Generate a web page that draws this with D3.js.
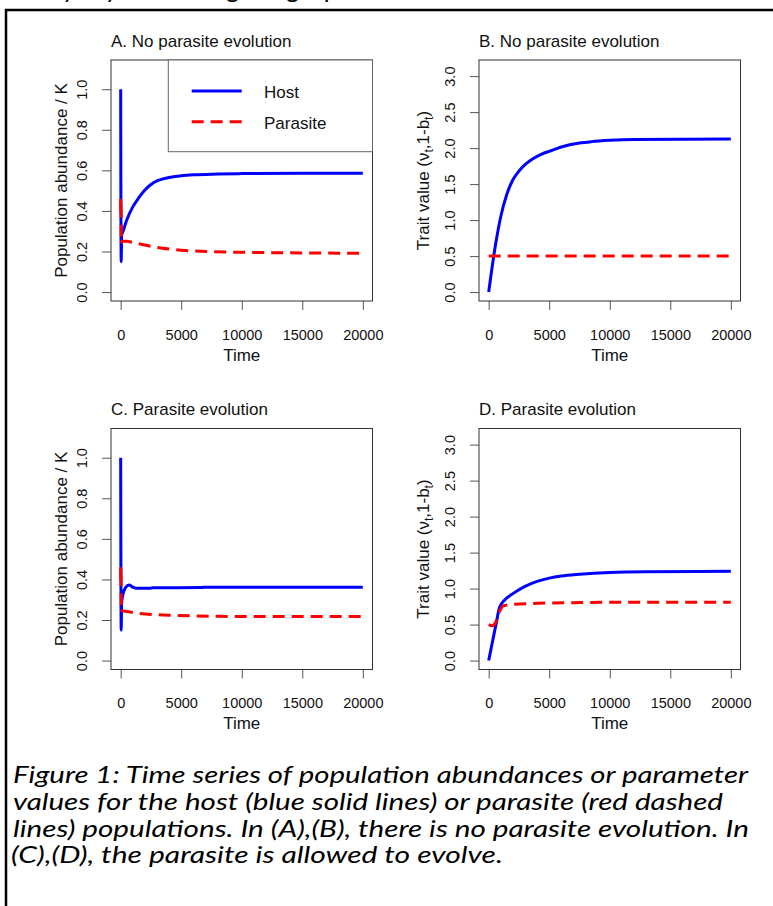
<!DOCTYPE html>
<html>

<head>
    <meta charset='utf-8'>
    <title>Host parasite time series</title>
    <script type='text/javascript' src='https://cdn.jsdelivr.net/npm/d3@7'></script>
    <style>
        body { margin: 0; background: #fff; }
    </style>
</head>

<body>
    <svg width='773' height='906'></svg>
    <script type='text/javascript'>
        // ticks
        const timeTicks = [0, 5000, 10000, 15000, 20000]
        const popTicks = [0, 0.2, 0.4, 0.6, 0.8, 1.0]
        const traitTicks = [0, 0.5, 1.0, 1.5, 2.0, 2.5, 3.0]
        const legendLabels = ['Host', 'Parasite']

        // A: abundances, no parasite evolution  [time, value]
        const hostPopA = [[0, 1.0], [40, 0.15], [80, 0.28], [200, 0.30], [500, 0.355], [1000, 0.42], [1500, 0.465],
            [2000, 0.503], [2500, 0.53], [3000, 0.548], [3500, 0.558], [4000, 0.565], [5000, 0.573], [6000, 0.578],
            [8000, 0.582], [10000, 0.584], [15000, 0.586], [20000, 0.586]]
        const parPopA = [[0, 0.40], [20, 0.46], [60, 0.24], [100, 0.25], [500, 0.25], [1000, 0.245], [2000, 0.232],
            [3000, 0.22], [4000, 0.212], [5000, 0.206], [7000, 0.2], [10000, 0.196], [15000, 0.193], [20000, 0.191]]
        // B: traits, no parasite evolution
        const hostTraitB = [[0, 0], [500, 0.59], [1000, 1.05], [1500, 1.36], [2000, 1.56], [2500, 1.68], [3000, 1.77],
            [3500, 1.835], [4000, 1.885], [4500, 1.925], [5000, 1.955], [6000, 2.015], [7500, 2.07], [8500, 2.09],
            [10000, 2.108], [12000, 2.12], [20000, 2.125]]
        const parTraitB = [[0, 0.5], [20000, 0.5]]
        // C: abundances, parasite evolution
        const hostPopC = [[0, 1.0], [40, 0.15], [80, 0.29], [200, 0.33], [400, 0.36], [700, 0.372], [1000, 0.362],
            [1300, 0.356], [2400, 0.356], [2600, 0.359], [6700, 0.36], [7000, 0.362], [20000, 0.362]]
        const parPopC = [[0, 0.40], [20, 0.46], [60, 0.24], [100, 0.245], [500, 0.242], [1400, 0.233], [3000, 0.226],
            [4500, 0.223], [6000, 0.22], [8000, 0.218], [20000, 0.217]]
        // D: traits, parasite evolution
        const hostTraitD = [[0, 0], [300, 0.25], [600, 0.5], [900, 0.74], [1100, 0.8], [1500, 0.87], [2000, 0.93],
            [3000, 1.03], [4000, 1.1], [5000, 1.145], [6000, 1.175], [7500, 1.2], [10000, 1.225], [13000, 1.235], [20000, 1.24]]
        const parTraitD = [[0, 0.5], [300, 0.485], [600, 0.54], [900, 0.68], [1200, 0.76], [2000, 0.78], [4000, 0.795],
            [7000, 0.805], [10000, 0.81], [20000, 0.81]]

        const captionLines = [
            'Figure 1: Time series of population abundances or parameter',
            'values for the host (blue solid lines) or parasite (red dashed',
            'lines) populations. In (A),(B), there is no parasite evolution. In',
            '(C),(D), the parasite is allowed to evolve.'
        ]

        const svg = d3.select('svg')
        const FONT = "'Liberation Sans', Arial, sans-serif"
        const BLUE = '#0000ff', RED = '#ff0000'
        const W = 261.5, H = 241

        // document frame + cut off text line above
        svg.append('rect').attr('x', 6).attr('y', 10).attr('width', 800).attr('height', 920)
            .attr('fill', 'none').attr('stroke', '#000').attr('stroke-width', 2.5)
        svg.append('text').attr('x', 22).attr('y', -2)
            .attr('font-family', "Lato, 'Open Sans', sans-serif").attr('font-size', 25)
            .attr('textLength', 540)
            .text('they try to manage high parasite abundance')

        const panels = [
            { left: 111, top: 60, title: 'A. No parasite evolution', ylab: 'pop', ticks: popTicks, ymax: 1.1, host: hostPopA, par: parPopA, legend: true },
            { left: 479, top: 60, title: 'B. No parasite evolution', ylab: 'trait', ticks: traitTicks, ymax: 3.1, host: hostTraitB, par: parTraitB },
            { left: 111, top: 428.5, title: 'C. Parasite evolution', ylab: 'pop', ticks: popTicks, ymax: 1.1, host: hostPopC, par: parPopC },
            { left: 479, top: 428.5, title: 'D. Parasite evolution', ylab: 'trait', ticks: traitTicks, ymax: 3.1, host: hostTraitD, par: parTraitD }
        ]

        panels.forEach(p => {
            // R style 4% axis extension
            const x = d3.scaleLinear().domain([-800, 20800]).range([p.left, p.left + W])
            const ext = p.ymax * 0.04
            const y = d3.scaleLinear().domain([-ext, p.ymax + ext]).range([p.top + H, p.top])
            const g = svg.append('g')

            // x axis
            const xa = g.append('g').attr('transform', `translate(0,${p.top + H})`)
                .call(d3.axisBottom(x).tickValues(timeTicks).tickSize(9).tickFormat(d3.format('d')))
            xa.select('.domain').remove()
            xa.selectAll('line').attr('stroke', '#555')
            xa.selectAll('text').attr('y', 38.5).attr('dy', null)
                .attr('font-family', FONT).attr('font-size', 14.5).attr('fill', '#111')

            // y axis, labels parallel to axis
            const ya = g.append('g').attr('transform', `translate(${p.left},0)`)
                .call(d3.axisLeft(y).tickValues(p.ticks).tickSize(9).tickFormat(d3.format('.1f')))
            ya.select('.domain').remove()
            ya.selectAll('line').attr('stroke', '#555')
            ya.selectAll('text').attr('x', null).attr('dy', null)
                .attr('transform', 'translate(-24.5,0) rotate(-90)')
                .attr('text-anchor', 'middle')
                .attr('font-family', FONT).attr('font-size', 14.5).attr('fill', '#111')

            // box
            g.append('rect').attr('x', p.left).attr('y', p.top).attr('width', W).attr('height', H)
                .attr('fill', 'none').attr('stroke', '#333').attr('stroke-width', 1)

            // title
            g.append('text').attr('x', p.left).attr('y', p.top - 13.3)
                .attr('font-family', FONT).attr('font-size', 17).attr('fill', '#111')
                .text(p.title)

            // x label
            g.append('text').attr('x', p.left + W / 2).attr('y', p.top + H + 59.5)
                .attr('text-anchor', 'middle')
                .attr('font-family', FONT).attr('font-size', 17).attr('fill', '#111')
                .text('Time')

            // y label
            if (p.ylab === 'pop') {
                g.append('text')
                    .attr('transform', `translate(${p.left - 43.7},${p.top + H / 2}) rotate(-90)`)
                    .attr('text-anchor', 'middle')
                    .attr('font-family', FONT).attr('font-size', 17).attr('fill', '#111')
                    .text('Population abundance / K')
            } else {
                const t = g.append('text')
                    .attr('transform', `translate(${p.left - 50},${p.top + H / 2}) rotate(-90)`)
                    .attr('text-anchor', 'middle')
                    .attr('font-family', FONT).attr('font-size', 17).attr('fill', '#111')
                t.append('tspan').text('Trait value (\u03bd')
                t.append('tspan').attr('font-size', 12).attr('dy', 4).text('t')
                t.append('tspan').attr('dy', -4).text(',1-b')
                t.append('tspan').attr('font-size', 12).attr('dy', 4).text('t')
                t.append('tspan').attr('dy', -4).text(')')
            }

            const line = d3.line().x(d => x(d[0])).y(d => y(d[1])).curve(d3.curveMonotoneX)
            g.append('path').attr('d', line(p.host))
                .attr('fill', 'none').attr('stroke', BLUE).attr('stroke-width', 3)
                .attr('stroke-linejoin', 'round')
            g.append('path').attr('d', line(p.par))
                .attr('fill', 'none').attr('stroke', RED).attr('stroke-width', 3)
                .attr('stroke-dasharray', '12,7')

            if (p.legend) {
                const lx = p.left + 57.3, ly = p.top
                const lg = g.append('g')
                lg.append('rect').attr('x', lx).attr('y', ly).attr('width', p.left + W - lx).attr('height', 91.7)
                    .attr('fill', '#fff').attr('stroke', '#666').attr('stroke-width', 1)
                legendLabels.forEach((lab, i) => {
                    const yy = ly + 31 + i * 30.7
                    lg.append('line').attr('x1', lx + 23.4).attr('x2', lx + 73.4).attr('y1', yy).attr('y2', yy)
                        .attr('stroke', i === 0 ? BLUE : RED).attr('stroke-width', 3)
                        .attr('stroke-dasharray', i === 0 ? null : '12,7')
                    lg.append('text').attr('x', lx + 95.7).attr('y', yy + 7.3)
                        .attr('font-family', FONT).attr('font-size', 17).attr('fill', '#111')
                        .text(lab)
                })
            }
        })

        // caption
        const capWidths = [735, 710, 736, 492]
        const capX = [13, 13, 13, 11]
        captionLines.forEach((s, i) => {
            svg.append('text').attr('x', capX[i]).attr('y', 783 + i * 26.8)
                .attr('font-family', "Lato, 'Open Sans', sans-serif").attr('font-style', 'italic')
                .attr('font-size', 24).attr('fill', '#000')
                .attr('textLength', capWidths[i]).attr('lengthAdjust', 'spacingAndGlyphs')
                .text(s)
        })
    </script>
</body>

</html>
